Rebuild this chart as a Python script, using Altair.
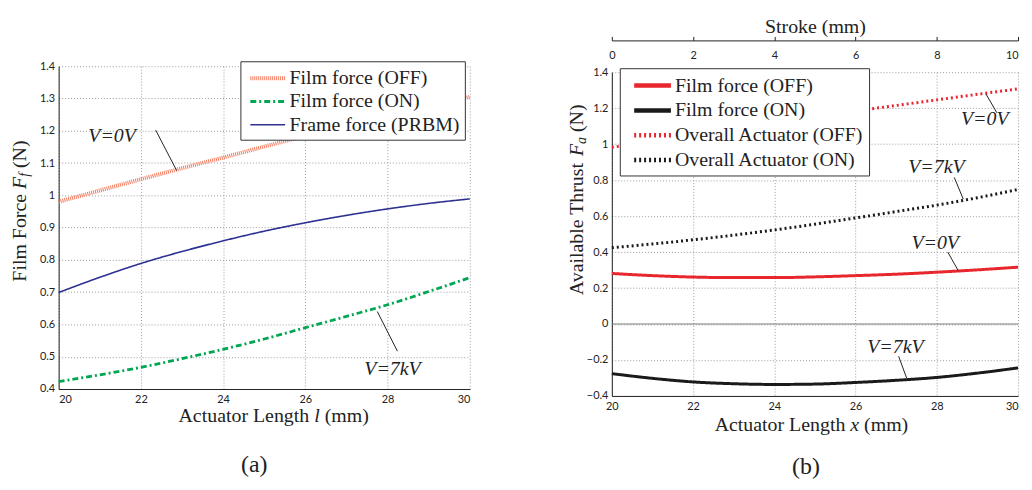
import altair as alt
import pandas as pd

SERIF = "Liberation Serif"
SANS = "Lato"
INK = "#222222"
GRID = "#9c9c9c"

# ---------------- data ----------------
length_mm = [20, 21, 22, 23, 24, 25, 26, 27, 28, 29, 30]

# panel (a)
film_off_a = [0.980, 1.015, 1.050, 1.084, 1.117, 1.151, 1.184, 1.215, 1.246, 1.276, 1.305]
film_on_a = [0.423, 0.444, 0.467, 0.494, 0.523, 0.555, 0.590, 0.625, 0.661, 0.702, 0.745]
frame_prbm_a = [0.699, 0.746, 0.789, 0.826, 0.859, 0.889, 0.915, 0.938, 0.958, 0.975, 0.989]

# panel (b)
film_off_b = [0.281, 0.269, 0.261, 0.258, 0.258, 0.262, 0.269, 0.277, 0.288, 0.301, 0.316]
film_on_b = [-0.276, -0.302, -0.322, -0.332, -0.336, -0.334, -0.325, -0.313, -0.297, -0.273, -0.244]
overall_off_b = [0.982, 1.016, 1.050, 1.084, 1.117, 1.151, 1.184, 1.215, 1.246, 1.277, 1.307]
overall_on_b = [0.424, 0.445, 0.468, 0.494, 0.523, 0.555, 0.590, 0.625, 0.661, 0.702, 0.748]

stroke_mm = [0, 2, 4, 6, 8, 10]
ticks_x = [20, 22, 24, 26, 28, 30]
ticks_ya = [0.4, 0.5, 0.6, 0.7, 0.8, 0.9, 1.0, 1.1, 1.2, 1.3, 1.4]
ticks_yb = [-0.4, -0.2, 0.0, 0.2, 0.4, 0.6, 0.8, 1.0, 1.2, 1.4]
zero_line = [0.0]

names_a = ["Film force (OFF)", "Film force (ON)", "Frame force (PRBM)"]
names_b = ["Film force (OFF)", "Film force (ON)", "Overall Actuator (OFF)", "Overall Actuator (ON)"]

# annotations (data units)
ann_a_text = ["V=0V", "V=7kV"]
ann_a_tx = [21.30, 28.12]
ann_a_ty = [1.185, 0.462]
ann_a_x1 = [22.36, 27.75]
ann_a_y1 = [1.202, 0.640]
ann_a_x2 = [22.87, 28.24]
ann_a_y2 = [1.077, 0.517]

ann_b_text = ["V=0V", "V=7kV", "V=0V", "V=7kV"]
ann_b_tx = [29.18, 27.99, 27.96, 26.98]
ann_b_ty = [1.139, 0.870, 0.452, -0.127]
ann_b_x1 = [29.21, 28.43, 28.27, 27.06]
ann_b_y1 = [1.279, 0.815, 0.400, -0.179]
ann_b_x2 = [29.48, 28.65, 28.53, 27.26]
ann_b_y2 = [1.174, 0.695, 0.296, -0.302]

# ---------------- helpers ----------------
one = pd.DataFrame({"k": [0]})


def piece(text, px, py, size=20, italic=False, angle=0):
    return alt.Chart(one).mark_text(
        text=text, font=SERIF, fontSize=size,
        fontStyle="italic" if italic else "normal",
        align="left", baseline="middle", angle=angle, color=INK,
    ).encode(x=alt.value(px), y=alt.value(py))


def x_axis(last=None):
    kw = dict(values=ticks_x, title=None, grid=True, ticks=False, tickSize=0,
              labelPadding=5, labelOverlap=False)
    if last is not None:
        kw["labelAlign"] = {"condition": {"test": f"datum.value == {last}", "value": "right"}, "value": "center"}
    return alt.Axis(**kw)


def y_axis(vals):
    return alt.Axis(values=vals, format="~g", title=None, grid=True,
                    ticks=False, tickSize=0, labelPadding=4, labelOverlap=False)


def annotations(xs, ys, x1, y1, x2, y2, texts, xax, yax):
    rules = alt.Chart(pd.DataFrame({"x": x1, "y": y1, "x2": x2, "y2": y2})).mark_rule(
        color=INK, strokeWidth=1).encode(
        x=alt.X("x:Q", axis=xax), y=alt.Y("y:Q", axis=yax), x2="x2:Q", y2="y2:Q")
    labels = alt.Chart(pd.DataFrame({"x": xs, "y": ys, "t": texts})).mark_text(
        font=SERIF, fontSize=20, fontStyle="italic", color=INK).encode(
        x=alt.X("x:Q", axis=xax), y=alt.Y("y:Q", axis=yax), text="t:N")
    return rules, labels


# ---------------- panel (a) ----------------
WA, WB, HA, HB = 414, 409, 325, 326

df_a = pd.DataFrame({
    "x": length_mm * 3,
    "y": film_off_a + film_on_a + frame_prbm_a,
    "series": [names_a[0]] * 11 + [names_a[1]] * 11 + [names_a[2]] * 11,
})

leg_a = alt.Legend(
    title=None, orient="none", legendX=183, legendY=-5,
    fillColor="white", strokeColor="#333333", padding=5, cornerRadius=0,
    rowPadding=2, symbolType="M-1.75,0H1.75", symbolSize=400,
    symbolOffset=10.5, labelOffset=10, labelFont=SERIF, labelFontSize=20,
    labelColor=INK, labelLimit=400,
)

xax_a, yax_a = x_axis(), y_axis(ticks_ya)
xs_a = alt.Scale(domain=[20, 30], nice=False, zero=False)
ys_a = alt.Scale(domain=[0.4, 1.4], nice=False, zero=False)

lines_a = alt.Chart(df_a).mark_line(interpolate="monotone").encode(
    x=alt.X("x:Q", scale=xs_a, axis=xax_a),
    y=alt.Y("y:Q", scale=ys_a, axis=yax_a),
    color=alt.Color("series:N", scale=alt.Scale(domain=names_a, range=["#f27b5e", "#00a651", "#2e3192"]), legend=leg_a),
    strokeDash=alt.StrokeDash("series:N", scale=alt.Scale(domain=names_a, range=[[1, 1], [6, 3, 2, 3], [1, 0]]), legend=leg_a),
    strokeWidth=alt.StrokeWidth("series:N", scale=alt.Scale(domain=names_a, range=[4, 1.6, 1.5]), legend=leg_a),
)

ann_a_lines, ann_a_labels = annotations(ann_a_tx, ann_a_ty, ann_a_x1, ann_a_y1, ann_a_x2, ann_a_y2,
                                        ann_a_text, xax_a, yax_a)

titles_a = [
    piece("Actuator Length", 120.7, 352),
    piece("l", 257.3, 352, italic=True),
    piece("(mm)", 267.9, 352),
    piece("Film Force", -39, 216.9, angle=270),
    piece("F", -39, 123.6, italic=True, angle=270),
    piece("f", -34, 111.4, size=14, italic=True, angle=270),
    piece("(N)", -39, 102.5, angle=270),
]

left = alt.layer(lines_a, ann_a_lines, ann_a_labels, *titles_a).properties(
    width=WA, height=HA,
    title=alt.TitleParams("(a)", orient="bottom", font=SERIF, fontSize=24, fontWeight="normal",
                          color=INK, offset=28, dx=-10),
)

# ---------------- panel (b) ----------------
df_b = pd.DataFrame({
    "x": length_mm * 4,
    "y": film_off_b + film_on_b + overall_off_b + overall_on_b,
    "series": [names_b[0]] * 11 + [names_b[1]] * 11 + [names_b[2]] * 11 + [names_b[3]] * 11,
})

leg_b = alt.Legend(
    title=None, orient="none", legendX=8, legendY=2,
    fillColor="white", strokeColor="#333333", padding=5, cornerRadius=0,
    rowPadding=2, symbolType="M-1.85,0H1.85", symbolSize=400,
    symbolOffset=15.5, labelOffset=10, labelFont=SERIF, labelFontSize=20,
    labelColor=INK, labelLimit=400, symbolStrokeWidth=4.5,
)

xax_b, yax_b = x_axis(last=30), y_axis(ticks_yb)
xs_b = alt.Scale(domain=[20, 30], nice=False, zero=False)
ys_b = alt.Scale(domain=[-0.4, 1.4], nice=False, zero=False)

lines_b = alt.Chart(df_b).mark_line(interpolate="monotone", strokeWidth=3).encode(
    x=alt.X("x:Q", scale=xs_b, axis=xax_b),
    y=alt.Y("y:Q", scale=ys_b, axis=yax_b),
    color=alt.Color("series:N", scale=alt.Scale(domain=names_b, range=["#e8262d", "#1a1a1a", "#e8262d", "#1a1a1a"]), legend=leg_b),
    strokeDash=alt.StrokeDash("series:N", scale=alt.Scale(domain=names_b, range=[[1, 0], [1, 0], [2, 3], [2, 3]]), legend=leg_b),
)

zero_b = alt.Chart(pd.DataFrame({"y": zero_line})).mark_rule(color="#7a7a7a", strokeWidth=1.2).encode(
    y=alt.Y("y:Q", axis=yax_b))

ann_b_lines, ann_b_labels = annotations(ann_b_tx, ann_b_ty, ann_b_x1, ann_b_y1, ann_b_x2, ann_b_y2,
                                        ann_b_text, xax_b, yax_b)

titles_b = [
    piece("Actuator Length", 103.5, 355.7),
    piece("x", 240.1, 355.7, italic=True),
    piece("(mm)", 254, 355.7),
    piece("Available Thrust", -34.6, 224.5, angle=270),
    piece("F", -34.6, 84.5, italic=True, angle=270),
    piece("a", -29.6, 72.3, size=14, italic=True, angle=270),
    piece("(N)", -34.6, 60.3, angle=270),
]

main_b = alt.layer(lines_b, zero_b, ann_b_lines, ann_b_labels, *titles_b)

top_axis = alt.Chart(pd.DataFrame({"s": stroke_mm})).mark_point(opacity=0).encode(
    x=alt.X("s:Q", scale=alt.Scale(domain=[0, 10], nice=False, zero=False),
            axis=alt.Axis(orient="top", values=stroke_mm, offset=32, grid=False,
                          ticks=True, tickSize=4, tickColor=INK, labelPadding=-19,
                          labelBaseline="middle", labelOverlap=False,
                          labelAlign={"condition": {"test": "datum.value == 10", "value": "right"}, "value": "center"},
                          title="Stroke (mm)", titleFont=SERIF,
                          titleFontSize=20, titleFontWeight="normal", titleColor=INK,
                          titleX=WB / 2, titleY=-14.3, titleBaseline="middle", titleAlign="center")),
)

right = alt.layer(main_b, top_axis).resolve_scale(x="independent").properties(
    width=WB, height=HB,
    title=alt.TitleParams("(b)", orient="bottom", font=SERIF, fontSize=24, fontWeight="normal",
                          color=INK, offset=20, dx=-9),
)

# a thin empty strip that lowers panel (b) by a few pixels, as in the figure
strip = alt.Chart(one).mark_point(opacity=0).properties(width=WB, height=1)
right_col = alt.vconcat(strip, right, spacing=5, bounds="flush")

chart = alt.hconcat(left, right_col, spacing=90).resolve_scale(
    color="independent", strokeDash="independent", strokeWidth="independent"
).resolve_legend(
    color="independent", strokeDash="independent", strokeWidth="independent"
).properties(
    padding={"left": 2, "top": 6, "right": 0, "bottom": 0}
).configure_view(stroke=None).configure_axis(
    labelFont=SANS, labelFontSize=11, labelColor=INK,
    domainColor=INK, domainWidth=1, labelOverlap=False,
    gridColor=GRID, gridDash=[1, 2], gridWidth=1, gridOpacity=1,
)

chart.save("out.html", embed_options={"renderer": "svg", "actions": False})
